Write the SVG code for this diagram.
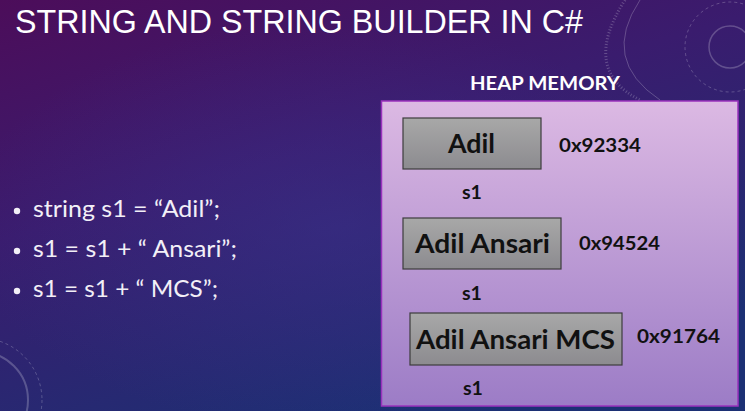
<svg xmlns="http://www.w3.org/2000/svg" width="745" height="411" viewBox="0 0 745 411">
<defs>
<linearGradient id="bg" x1="0" y1="0" x2="0.55" y2="1">
<stop offset="0" stop-color="#4c0d5a"/>
<stop offset="0.45" stop-color="#3a1c6e"/>
<stop offset="1" stop-color="#1c3074"/>
</linearGradient>
<radialGradient id="glow" cx="0.45" cy="0.55" r="0.5">
<stop offset="0" stop-color="#3c3490" stop-opacity="0.45"/>
<stop offset="1" stop-color="#3c3490" stop-opacity="0"/>
</radialGradient>
<linearGradient id="heap" x1="0" y1="0" x2="0" y2="1">
<stop offset="0" stop-color="#dcb9e3"/>
<stop offset="1" stop-color="#9c7cc6"/>
</linearGradient>
<linearGradient id="grey" x1="0" y1="0" x2="0" y2="1">
<stop offset="0" stop-color="#a8a8a8"/>
<stop offset="1" stop-color="#8c8b8f"/>
</linearGradient>
<style>
.title{font-family:"Liberation Sans",Arial,sans-serif;font-size:34px;fill:#ffffff}
.bul{font-family:Lato,"Liberation Sans",sans-serif;font-size:24px;fill:#f2eff7}
.hdr{font-family:Lato,"Liberation Sans",sans-serif;font-weight:bold;font-size:18px;fill:#ffffff}
.box{fill:url(#grey);stroke:#3c3c3c;stroke-width:1.2}
.lbl{font-family:Lato,"Liberation Sans",sans-serif;font-weight:bold;font-size:26px;fill:#111111}
.addr{font-family:Lato,"Liberation Sans",sans-serif;font-weight:bold;font-size:19px;fill:#111111}
.deco{fill:none;stroke:#ffffff;stroke-opacity:0.22}
</style>
</defs>
<rect x="0" y="0" width="745" height="411" fill="url(#bg)"/>
<rect x="0" y="0" width="745" height="411" fill="url(#glow)"/>
<g id="decoration">
<circle class="deco" cx="730" cy="47" r="21" stroke-width="1.5"/>
<circle class="deco" cx="730" cy="47" r="45" stroke-width="1" stroke-dasharray="3 3"/>
<path class="deco" d="M640 0 Q 600 60 660 100" stroke-width="1"/>
<path class="deco" d="M625 0 Q 580 70 640 100" stroke-width="3" stroke-dasharray="1 2"/>
<circle class="deco" cx="-20" cy="400" r="48" stroke-width="2"/>
<circle class="deco" cx="-20" cy="400" r="62" stroke-width="1" stroke-dasharray="3 3"/>
</g>
<text class="title" x="15" y="33" textLength="568" lengthAdjust="spacingAndGlyphs">STRING AND STRING BUILDER IN C#</text>
<g id="code">
<circle cx="17" cy="211" r="3.2" fill="#f2eff7"/>
<text class="bul" x="33" y="217" textLength="187" lengthAdjust="spacingAndGlyphs">string s1 = “Adil”;</text>
<circle cx="17" cy="251" r="3.2" fill="#f2eff7"/>
<text class="bul" x="33" y="257" textLength="204" lengthAdjust="spacingAndGlyphs">s1 = s1 + “ Ansari”;</text>
<circle cx="17" cy="291" r="3.2" fill="#f2eff7"/>
<text class="bul" x="33" y="297" textLength="185" lengthAdjust="spacingAndGlyphs">s1 = s1 + “ MCS”;</text>
</g>
<g id="heap-memory">
<text class="hdr" x="470" y="90" textLength="150" lengthAdjust="spacingAndGlyphs">HEAP MEMORY</text>
<rect x="381.5" y="101" width="356.5" height="305" fill="url(#heap)" stroke="#9a32bd" stroke-width="1.5"/>
</g>
<g id="node-adil">
<rect class="box" x="403" y="118" width="138" height="51"/>
<text class="lbl" x="448" y="153" textLength="47" lengthAdjust="spacingAndGlyphs">Adil</text>
<text class="addr" x="559" y="152" textLength="82" lengthAdjust="spacingAndGlyphs">0x92334</text>
<text class="addr" x="462" y="199" textLength="20" lengthAdjust="spacingAndGlyphs">s1</text>
</g>
<g id="node-adil-ansari">
<rect class="box" x="403" y="218" width="158" height="51"/>
<text class="lbl" x="415" y="253" textLength="135" lengthAdjust="spacingAndGlyphs">Adil Ansari</text>
<text class="addr" x="579" y="250" textLength="81" lengthAdjust="spacingAndGlyphs">0x94524</text>
<text class="addr" x="462" y="300" textLength="20" lengthAdjust="spacingAndGlyphs">s1</text>
</g>
<g id="node-adil-ansari-mcs">
<rect class="box" x="410" y="313" width="212" height="52"/>
<text class="lbl" x="416" y="349" textLength="199" lengthAdjust="spacingAndGlyphs">Adil Ansari MCS</text>
<text class="addr" x="637" y="343" textLength="83" lengthAdjust="spacingAndGlyphs">0x91764</text>
<text class="addr" x="463" y="395" textLength="20" lengthAdjust="spacingAndGlyphs">s1</text>
</g>
<g id="connectors"/>
</svg>
